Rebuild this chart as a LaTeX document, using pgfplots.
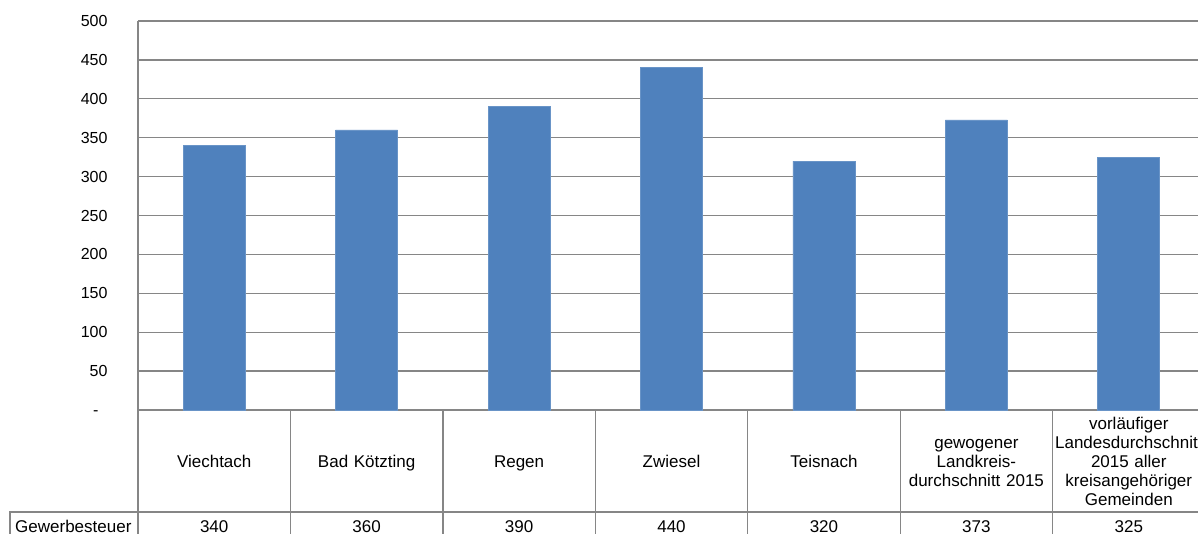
\documentclass[border=0pt]{standalone}
\usepackage{fontspec}
\setmainfont{Liberation Sans}
\usepackage{pgfplots}
\pgfplotsset{compat=1.18}
\definecolor{barblue}{RGB}{79,129,189}
\definecolor{gridgray}{RGB}{134,134,134}

\begin{document}
\fontsize{16pt}{19pt}\selectfont
\begin{tikzpicture}[x=1pt,y=1pt]
\begin{axis}[
    at={(138pt,123pt)}, anchor=south west,
    scale only axis, width=1067pt, height=389pt,
    xmin=-0.5, xmax=6.5, ymin=0, ymax=500,
    ytick={0,50,...,500},
    yticklabels={{-\phantom{0}},50,100,150,200,250,300,350,400,450,500},
    yticklabel style={anchor=east, xshift=-25pt, font=\fontsize{16pt}{19pt}\selectfont},
    /pgf/number format/assume math mode=true,
    xtick={0,...,6},
    xticklabels={},
    major tick length=0pt,
    ymajorgrids, grid style={gridgray, line width=1.3pt},
    axis x line*=bottom, axis y line*=left,
    axis line style={gridgray, line width=1.3pt, -},
    clip=false,
    ybar, bar width=62pt,
]
\addplot[fill=barblue, draw=barblue!85!white, line width=0.5pt] coordinates {
    (0,340) (1,360) (2,390) (3,440) (4,320) (5,373) (6,325)
};
\end{axis}
% data table below the plot
\foreach \k in {0,...,6}
    \draw[gridgray, line width=1.3pt] ({138+152.43*\k},123) -- ++(0,-140);
\foreach \i/\name in {0/Viechtach, 1/Bad Kötzting, 2/Regen, 3/Zwiesel, 4/Teisnach,
    5/{gewogener\\Landkreis-\\durchschnitt 2015},
    6/{vorläufiger\\Landesdurchschnitt\\2015 aller\\kreisangehöriger\\Gemeinden}}
    \node[align=center, text width=152pt, inner sep=0pt, font=\fontsize{17pt}{19pt}\selectfont]
        at ({138+152.43*(\i+0.5)},69) {\strut\name\strut};
\foreach \i/\v in {0/340, 1/360, 2/390, 3/440, 4/320, 5/373, 6/325}
    \node[font=\fontsize{17pt}{19pt}\selectfont, anchor=base, inner sep=0pt] at ({138+152.43*(\i+0.5)},1) {\v};
\draw[gridgray, line width=1.3pt] (10,-20) -- (10,21) -- (1210,21);
\node[anchor=base west, font=\fontsize{17pt}{19pt}\selectfont, inner sep=0pt] at (15,1) {Gewerbesteuer};
\pgfresetboundingbox
\path[use as bounding box] (0,0) rectangle (1198,533);
\end{tikzpicture}
\end{document}
